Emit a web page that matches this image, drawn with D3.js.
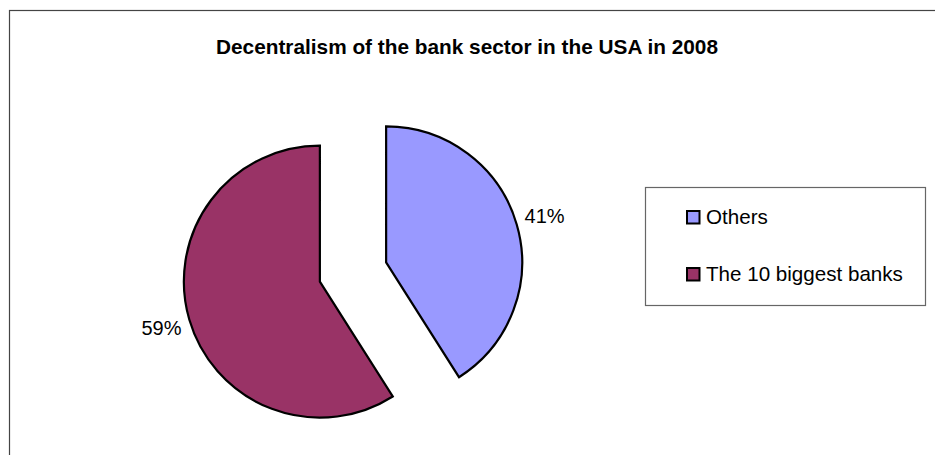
<!DOCTYPE html>
<html>
<head>
<meta charset="utf-8">
<script src="https://cdn.jsdelivr.net/npm/d3@7"></script>
<style>
  html, body { margin: 0; padding: 0; background: #fff; }
  svg { display: block; font-family: Arial, "Liberation Sans", sans-serif; }
</style>
</head>
<body>
<svg id="chart" width="935" height="455"></svg>
<script>
// Share of US bank-sector assets, 2008
const categories = ["Others", "The 10 biggest banks"];
const values = [41, 59];
const colors = ["#9999FF", "#993366"];
const title = "Decentralism of the bank sector in the USA in 2008";

const svg = d3.select("#chart");
const W = 935, H = 455;

// outer chart frame (right and bottom edges fall outside the canvas)
svg.append("rect")
  .attr("x", 9.5).attr("y", 10.5)
  .attr("width", W).attr("height", H)
  .attr("fill", "#fff").attr("stroke", "#444").attr("stroke-width", 1.2);

svg.append("text")
  .attr("x", 467).attr("y", 54)
  .attr("text-anchor", "middle")
  .attr("font-size", 20.8).attr("font-weight", "bold")
  .attr("fill", "#000")
  .text(title);

// exploded pie
const cx = 353, cy = 272, radius = 136, explode = 34.5;
const total = d3.sum(values);
const pie = d3.pie().sort(null).startAngle(0).endAngle(2 * Math.PI);
const arcs = pie(values);
const arc = d3.arc().innerRadius(0).outerRadius(radius);
const labelArc = d3.arc().innerRadius(165).outerRadius(165);
const pct = d3.format(".0%");

const g = svg.append("g").attr("transform", `translate(${cx},${cy})`);

const slice = g.selectAll("g.slice")
  .data(arcs)
  .join("g")
  .attr("class", "slice")
  .attr("transform", d => {
    const a = (d.startAngle + d.endAngle) / 2;
    return `translate(${explode * Math.sin(a)},${-explode * Math.cos(a)})`;
  });

slice.append("path")
  .attr("d", arc)
  .attr("fill", (d, i) => colors[i])
  .attr("stroke", "#000")
  .attr("stroke-width", 2.2)
  .attr("stroke-linejoin", "miter");

slice.append("text")
  .attr("transform", d => `translate(${labelArc.centroid(d)})`)
  .attr("text-anchor", "middle")
  .attr("dy", "0.35em")
  .attr("font-size", 20)
  .attr("fill", "#000")
  .text(d => pct(d.value / total));

// legend
const legend = svg.append("g");
legend.append("rect")
  .attr("x", 645.5).attr("y", 187.5)
  .attr("width", 280).attr("height", 118)
  .attr("fill", "#fff").attr("stroke", "#666").attr("stroke-width", 1.2);

const legendY = d3.scalePoint().domain(categories).range([217, 274]);
const item = legend.selectAll("g.item")
  .data(categories)
  .join("g")
  .attr("class", "item")
  .attr("transform", d => `translate(0,${legendY(d)})`);

item.append("rect")
  .attr("x", 687).attr("y", -6)
  .attr("width", 12.5).attr("height", 12.5)
  .attr("fill", (d, i) => colors[i])
  .attr("stroke", "#000").attr("stroke-width", 2);

item.append("text")
  .attr("x", 706).attr("y", 7)
  .attr("font-size", 20.6)
  .attr("fill", "#000")
  .text(d => d);
</script>
</body>
</html>
